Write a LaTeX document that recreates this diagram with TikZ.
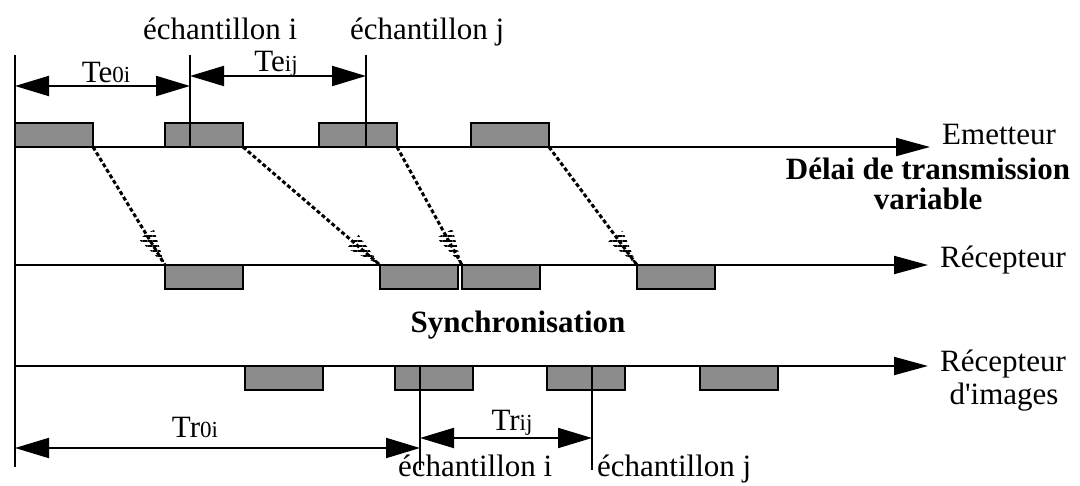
\documentclass[tikz,border=0pt]{standalone}
\usepackage{fontspec}
\setmainfont{Liberation Serif}
\usetikzlibrary{arrows.meta,calc,patterns.meta}

\begin{document}
\begin{tikzpicture}[x=1pt,y=-1pt,
    pkt/.style={draw,line width=2pt,fill=black!45,minimum width=78pt,minimum height=24pt,inner sep=0pt,outer sep=0pt},
    axe/.style={line width=2pt,-{Triangle[length=34pt,width=18pt]}},
    cote/.style={line width=2pt,{Triangle[length=34pt,width=20pt]}-{Triangle[length=34pt,width=20pt]}},
    envoi/.style={line width=3pt,dash pattern=on 4pt off 2.5pt},
    tete/.style={pattern={Lines[angle=0,distance=5pt,line width=2.6pt]}},
    txt/.style={font=\fontsize{31}{23}\selectfont,inner sep=0pt},
    gras/.style={font=\fontsize{31}{23}\selectfont\bfseries,inner sep=0pt}]
    \useasboundingbox (0,0) rectangle (1080,486);

    \coordinate (o) at (15,55);
    \coordinate (ob) at (15,467);
    \coordinate (e0) at (15,147);
    \coordinate (r0) at (15,265);
    \coordinate (s0) at (15,366);
    \draw[line width=2.5pt] (o) -- (ob);
    \draw[axe] (e0) -- (930,147) coordinate (ef);
    \draw[axe] (r0) -- (928,265) coordinate (rf);
    \draw[axe] (s0) -- (928,366) coordinate (sf);

    \node[pkt,anchor=south west] (e1) at (15,147) {};
    \node[pkt,anchor=south west] (e2) at (165,147) {};
    \node[pkt,anchor=south west] (e3) at (319,147) {};
    \node[pkt,anchor=south west] (e4) at (471,147) {};
    \node[pkt,anchor=north west] (r1) at (165,265) {};
    \node[pkt,anchor=north west] (r2) at (380,265) {};
    \node[pkt,anchor=north west] (r3) at (462,265) {};
    \node[pkt,anchor=north west] (r4) at (637,265) {};
    \node[pkt,anchor=north west] (s1) at (245,366) {};
    \node[pkt,anchor=north west] (s2) at (395,366) {};
    \node[pkt,anchor=north west] (s3) at (547,366) {};
    \node[pkt,anchor=north west] (s4) at (700,366) {};

    \foreach \a/\b in {e1/r1,e2/r2,e3/r3,e4/r4}{
        \draw[envoi] (\a.south east) -- (\b.north west);
        \path[tete] (\b.north west)
            -- ($(\b.north west)!36pt!(\a.south east)!9pt!90:(\b.north west)$)
            -- ($(\b.north west)!36pt!(\a.south east)!9pt!-90:(\b.north west)$) -- cycle;
    }

    \coordinate (mi) at (190,55);
    \coordinate (mj) at (366,55);
    \coordinate (ni) at (420,470);
    \coordinate (nj) at (592,470);
    \draw[line width=2pt] (mi) -- (mi |- e2.south);
    \draw[line width=2pt] (mj) -- (mj |- e3.south);
    \draw[line width=2pt] (ni |- s2.north) -- (ni);
    \draw[line width=2pt] (nj |- s3.north) -- (nj);

    \coordinate (te0) at (15,86);
    \coordinate (teij) at (190,76);
    \coordinate (tr0) at (15,448);
    \coordinate (trij) at (420,438);
    \draw[cote] (te0) -- (te0 -| mi);
    \draw[cote] (teij) -- (teij -| mj);
    \draw[cote] (tr0) -- (tr0 -| ni);
    \draw[cote] (trij) -- (trij -| nj);

    \node[txt,anchor=base] (lte0) at (106,83) {Te{\fontsize{23}{23}\selectfont 0i}};
    \node[txt,anchor=base] (lteij) at (276,72) {Te{\fontsize{23}{23}\selectfont ij}};
    \node[txt,anchor=base] (ltr0) at (195,438) {Tr{\fontsize{23}{23}\selectfont 0i}};
    \node[txt,anchor=base] (ltrij) at (512,431) {Tr{\fontsize{23}{23}\selectfont ij}};
    \node[txt,anchor=base west] (hi) at (143,40) {échantillon i};
    \node[txt,anchor=base west] (hj) at (350,40) {échantillon j};
    \node[txt,anchor=base west] (bi) at (398,477) {échantillon i};
    \node[txt,anchor=base west] (bj) at (597,477) {échantillon j};

    \node[txt,anchor=base west] (le) at (942,145) {Emetteur};
    \node[txt,anchor=base west] (lr) at (940,268) {Récepteur};
    \node[txt,anchor=base west] (ls) at (940,372) {Récepteur};
    \node[txt,anchor=base] (ls2) at (1004,405) {d\textquotesingle images};
    \node[gras,anchor=base] (ld) at (928,180) {Délai de transmission};
    \node[gras,anchor=base] (ld2) at (928,210) {variable};
    \node[gras,anchor=base] (lsy) at (518,333) {Synchronisation};
\end{tikzpicture}
\end{document}
